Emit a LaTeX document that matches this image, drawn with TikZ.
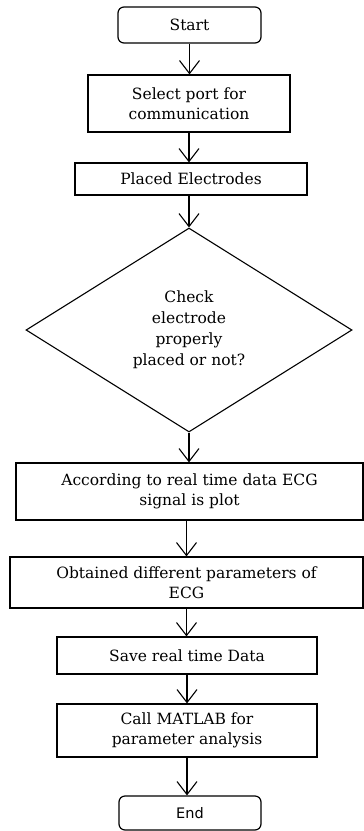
\documentclass[tikz,border=0pt]{standalone}
\usepackage{fontspec}
\setmainfont{DejaVu Serif}
\newfontfamily\endfont{DejaVu Sans}
\usetikzlibrary{shapes.geometric,arrows.meta}
\begin{document}
\begin{tikzpicture}[x=1pt,y=-1pt,
  box/.style={draw,line width=1.2pt,inner sep=0pt,align=center,font=\fontsize{15.5}{20}\selectfont},
  term/.style={box,rounded corners=6pt},
  dec/.style={draw,line width=1.1pt,diamond,inner sep=0pt,align=center,font=\fontsize{15.5}{21}\selectfont},
  flow/.style={line width=1.2pt,-{Straight Barb[length=13pt,width=20pt,line width=1.1pt]}}]
\useasboundingbox (0,0) rectangle (364,831);
\node[term,minimum width=143pt,minimum height=36pt] (start) at (189.5,25) {Start};
\node[box,minimum width=202pt,minimum height=57pt] (sel) at (189,103.5) {Select port for\\communication};
\node[box,minimum width=232pt,minimum height=32pt] (pl) at (191,179) {Placed Electrodes};
\node[dec,minimum width=326pt,minimum height=204pt] (chk) at (189,330) {Check\\electrode\\properly\\placed or not?};
\node[box,minimum width=347pt,minimum height=57pt] (acc) at (189.5,491.5) {According to real time data ECG\\signal is plot};
\node[box,minimum width=353pt,minimum height=51pt] (obt) at (186.5,582.5) {Obtained different parameters of\\ECG};
\node[box,minimum width=260pt,minimum height=37pt] (sav) at (187,655.5) {Save real time Data};
\node[box,minimum width=260pt,minimum height=53pt] (cal) at (187,730.5) {Call MATLAB for\\parameter analysis};
\node[term,minimum width=142pt,minimum height=34pt,font=\endfont\fontsize{14.5}{16}\selectfont] (end) at (190,813) {End};
\draw[flow] (start.south) -- (start.south |- sel.north);
\draw[flow] (sel.south) -- (sel.south |- pl.north);
\draw[flow] (pl.south -| chk.north) -- (chk.north);
\draw[flow] (chk.south) -- (chk.south |- acc.north);
\draw[flow] (obt.north |- acc.south) -- (obt.north);
\draw[flow] (obt.south) -- (obt.south |- sav.north);
\draw[flow] (sav.south) -- (sav.south |- cal.north);
\draw[flow] (cal.south) -- (cal.south |- end.north);
\end{tikzpicture}
\end{document}
